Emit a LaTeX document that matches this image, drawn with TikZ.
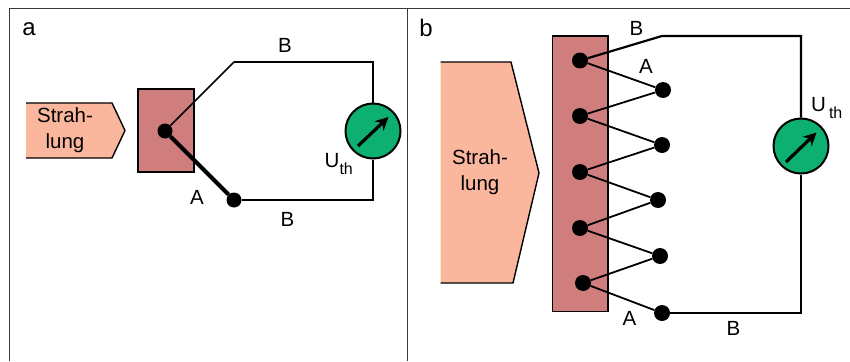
\documentclass[tikz,border=0pt]{standalone}
\usepackage{fontspec}
\setmainfont{Liberation Sans}
\usepackage{xcolor}
\definecolor{colBeam}{HTML}{FBB79E}
\definecolor{colPlate}{HTML}{D07D7D}
\definecolor{colMeter}{HTML}{0DB070}
\definecolor{colFrame}{HTML}{3A3A3A}
\usetikzlibrary{arrows.meta, calc}
\newcommand{\subth}[1]{U\hspace{#1}{\fontsize{16}{16}\selectfont\raisebox{-7pt}{th}}}
\tikzset{
    lbl/.style={inner sep=0pt, font=\fontsize{20.5}{26}\selectfont, align=center},
    panellbl/.style={inner sep=0pt, font=\fontsize{24}{26}\selectfont},
    plate/.style={draw=black, fill=colPlate, line width=1.6pt},
    beam/.style={fill=colBeam},
    beamedge/.style={draw=black, line width=1.4pt, line join=round},
    dotnode/.style={circle, fill=black, inner sep=0pt, minimum size=#1},
    dotnode/.default=15pt,
    meter/.style={circle, draw=black, fill=colMeter, line width=2pt, inner sep=0pt, minimum size=55pt},
    wire/.style={line width=#1, line join=miter},
    wire/.default=1.6pt,
    needle/.style={-{Stealth[length=13pt,width=13pt]}, line width=3.2pt},
}

\begin{document}
\begin{tikzpicture}[x=1pt, y=-1pt]
        \useasboundingbox (0,0) rectangle (850,361);

        % Frame
        \draw[colFrame, line width=0.8pt] (9,361) -- (9,8.5) -- (850,8.5);
        \draw[colFrame, line width=0.8pt] (407,8.5) -- (407,361);
        \node[panellbl] (labA) at (29,29) {a};
        \node[panellbl] (labB) at (426,28) {b};

        % Panel a
        \fill[beam] (26,103) -- (112,103) -- (125,130.5) -- (112,158) -- (26,158) -- cycle;
        \draw[beamedge] (26,103) -- (112,103) -- (125,130.5) -- (112,158) -- (26,158);
        \node[lbl] (beamA) at (65,130.5) {Strah-\\lung};
        \draw[plate] (138,89) rectangle (194,172);

        \node[dotnode] (hotA) at (165,131) {};
        \node[dotnode] (coldA) at (234,200) {};
        \coordinate (bendA) at (234,62);
        \coordinate (topA) at (373,62);
        \coordinate (botA) at (373,200);
        \node[meter] (meterA) at (373,131) {};

        \draw[wire=1.7pt] (hotA) -- (bendA);
        \draw[wire=2.6pt] (bendA) -- (topA) -- (meterA);
        \draw[wire=2.6pt] (meterA) -- (botA) -- (coldA);
        \draw[wire=4pt] (hotA) -- (coldA);
        \draw[needle] ($(meterA)+(-15,15)$) -- ($(meterA)+(15.5,-14)$);

        \node[lbl] (a1) at (197,197) {A};
        \node[lbl] (b1) at (285,45) {B};
        \node[lbl] (b2) at (287.5,219) {B};
        \node[lbl, anchor=west] (uA) at (324.5,164) {\subth{0pt}};

        % Panel b
        \fill[beam] (440.5,62) -- (511,62) -- (539,173) -- (513,283) -- (440.5,283) -- cycle;
        \draw[beamedge] (440.5,62) -- (511,62) -- (539,173) -- (513,283) -- (440.5,283);
        \node[lbl] (beamB) at (480,172.5) {Strah-\\lung};
        \draw[plate] (552.5,36) rectangle (608,311.5);

        \foreach \n/\x/\y in {1/580/60.5, 2/580/116, 3/580/172, 4/580/228, 5/583/283}
            \node[dotnode=16pt] (hot\n) at (\x,\y) {};
        \foreach \n/\x/\y in {1/663/90, 2/662/145, 3/658/200, 4/660/256, 5/662/313}
            \node[dotnode=16pt] (cold\n) at (\x,\y) {};

        \foreach \n in {1,...,5}
            \draw[wire=1.8pt] (hot\n) -- (cold\n);
        \foreach \n/\m in {2/1, 3/2, 4/3, 5/4}
            \draw[wire=1.8pt] (hot\n) -- (cold\m);

        \coordinate (bendB) at (662,36);
        \coordinate (topB) at (801,36);
        \coordinate (botB) at (801,313);
        \node[meter] (meterB) at (801,146) {};

        \draw[wire=2.2pt] (hot1) -- (bendB) -- (topB) -- (meterB);
        \draw[wire=2.2pt] (meterB) -- (botB) -- (cold5);
        \draw[needle] ($(meterB)+(-15,16)$) -- ($(meterB)+(15.5,-13.5)$);

        \node[lbl] (a3) at (646,66) {A};
        \node[lbl] (a4) at (629.5,318) {A};
        \node[lbl] (b3) at (636.5,28) {B};
        \node[lbl] (b4) at (733.5,328) {B};
        \node[lbl, anchor=west] (uB) at (811,108.5) {\subth{3pt}};
    \end{tikzpicture}
\end{document}
